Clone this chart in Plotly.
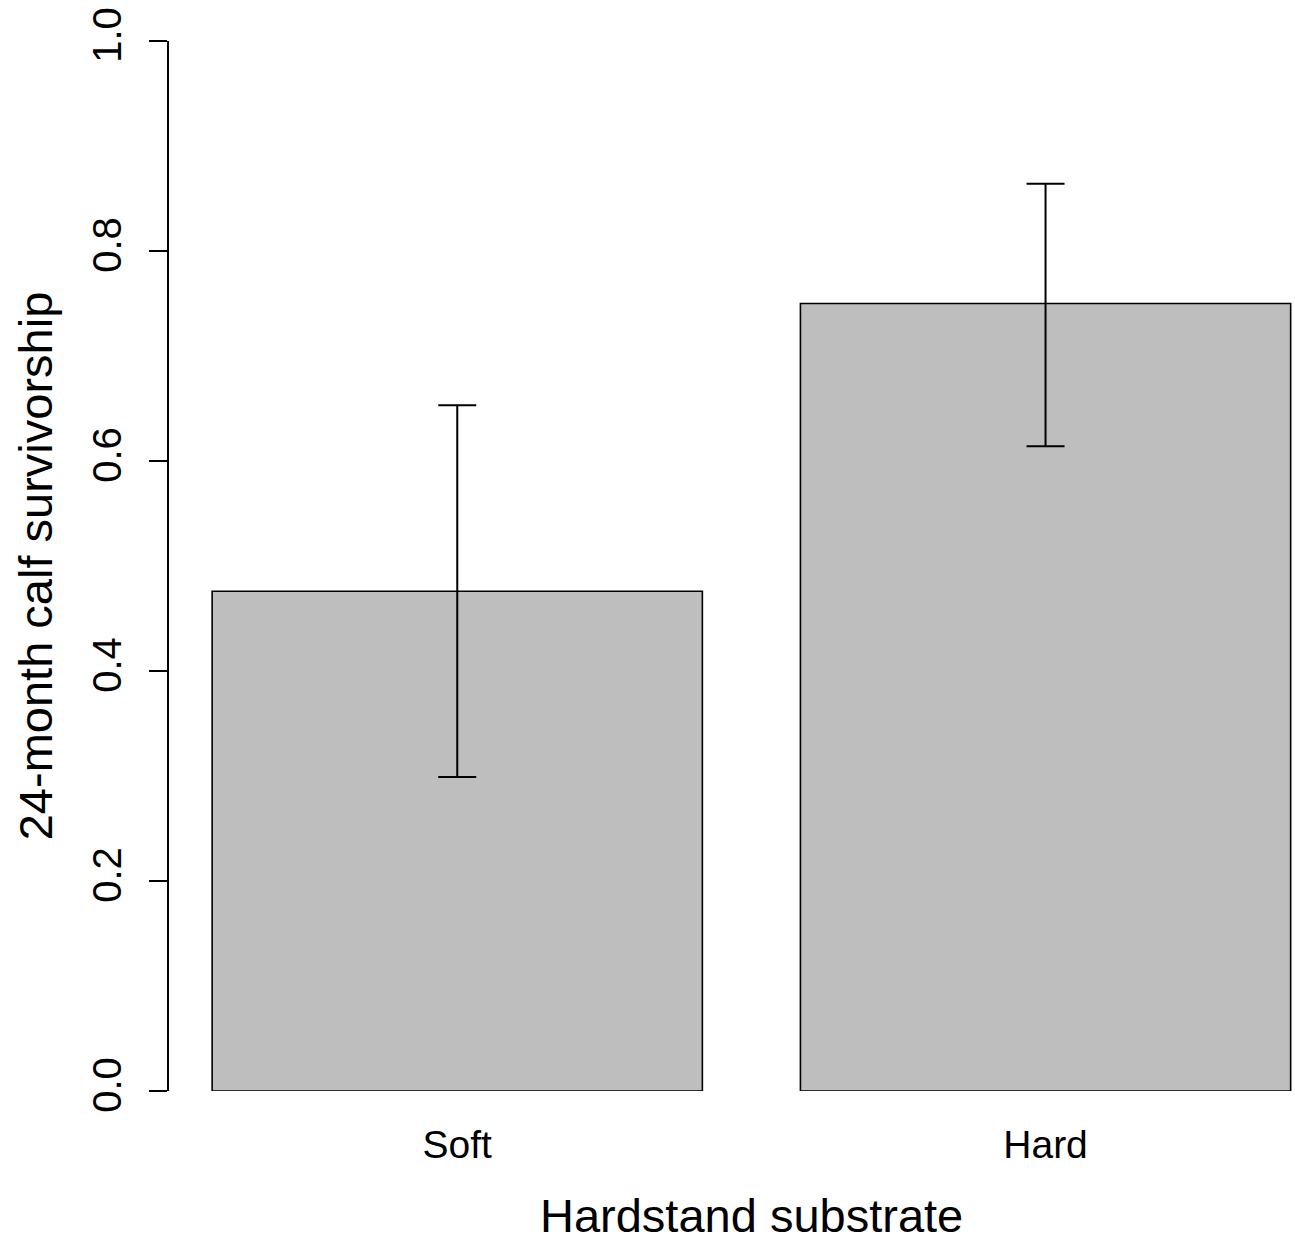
import plotly.graph_objects as go

# Data
categories = ["Soft", "Hard"]
bar_positions = [0.7, 1.9]
survivorship = [0.476, 0.750]
ci_upper = [0.653, 0.864]
ci_lower = [0.299, 0.614]
y_tick_vals = [0.0, 0.2, 0.4, 0.6, 0.8, 1.0]
y_tick_text = ["0.0", "0.2", "0.4", "0.6", "0.8", "1.0"]

err_plus = [u - v for u, v in zip(ci_upper, survivorship)]
err_minus = [v - l for v, l in zip(survivorship, ci_lower)]

FONT = "Liberation Sans, Arial, sans-serif"

fig = go.Figure()
fig.add_trace(go.Bar(
    x=bar_positions,
    y=survivorship,
    width=1.0,
    marker=dict(color="#BEBEBE", line=dict(color="black", width=1.6)),
    error_y=dict(type="data", symmetric=False, array=err_plus, arrayminus=err_minus,
                 color="black", thickness=2, width=19),
    cliponaxis=False,
    showlegend=False,
    hoverinfo="skip",
))

W, H = 1295, 1239
left, right, top, bottom = 168.5, 0, 40.7, 147.5

fig.update_layout(
    width=W, height=H,
    margin=dict(l=left, r=right, t=top, b=bottom, pad=0),
    paper_bgcolor="white", plot_bgcolor="white",
    font=dict(family=FONT, color="black"),
    xaxis=dict(
        range=[0.112, 0.112 + (W - left) / 490.45],
        tickvals=bar_positions, ticktext=categories,
        ticks="", showline=False, showgrid=False, zeroline=False,
        tickfont=dict(size=39, family=FONT, color="black"),
        ticklabelstandoff=27,
    ),
    yaxis=dict(
        range=[0, 1],
        tickvals=y_tick_vals, ticktext=y_tick_text,
        ticks="outside", ticklen=18, tickwidth=2, tickcolor="black",
        showline=True, linecolor="black", linewidth=2,
        showgrid=False, zeroline=False,
        tickangle=-90,
        ticklabelstandoff=12,
        tickfont=dict(size=40, family=FONT, color="black"),
        title=dict(text="24-month calf survivorship", font=dict(size=47, family=FONT, color="black"),
                   standoff=18),
    ),
    annotations=[dict(
        text="Hardstand substrate", x=1.3, xref="x", y=0, yref="paper",
        showarrow=False, font=dict(size=47, family=FONT, color="black"),
        xanchor="center", yanchor="middle",
    )],
)
# convert annotation y pixel (center ~1217 from top) to paper coordinate
plot_h = H - top - bottom
fig.layout.annotations[0].y = (H - bottom - 1216) / plot_h

fig.write_html(
    "out.html",
    config={"displayModeBar": False},
    post_script="document.body.style.margin='0';document.body.style.overflow='hidden';",
)
